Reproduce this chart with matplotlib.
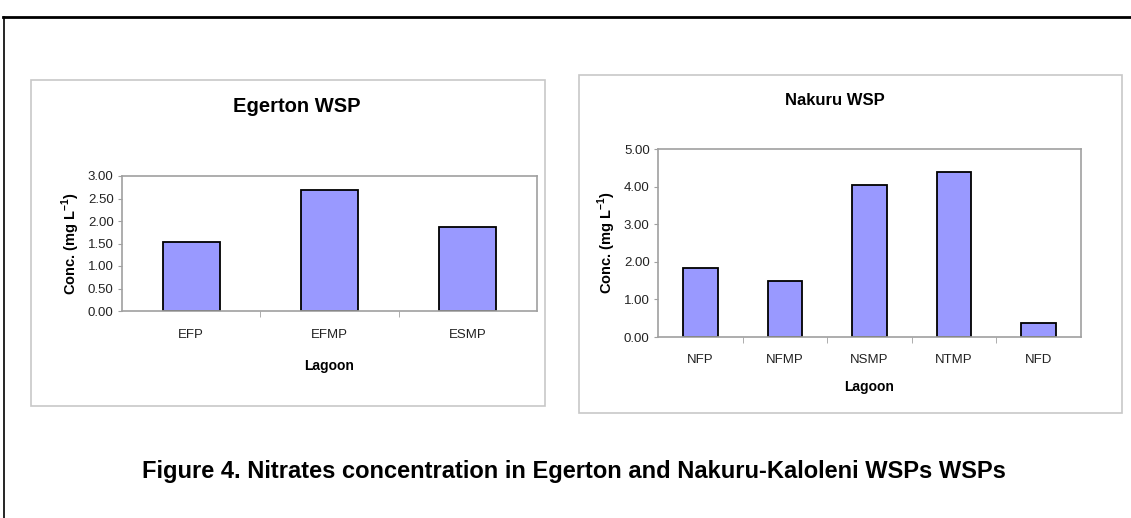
import matplotlib.pyplot as plt
from matplotlib.patches import Rectangle
from matplotlib.lines import Line2D

plt.rcParams['font.family'] = ['Liberation Sans', 'DejaVu Sans']

egerton_lagoons = ["EFP", "EFMP", "ESMP"]
egerton_nitrate = [1.53, 2.69, 1.86]
egerton_ticks = [0.0, 0.5, 1.0, 1.5, 2.0, 2.5, 3.0]

nakuru_lagoons = ["NFP", "NFMP", "NSMP", "NTMP", "NFD"]
nakuru_nitrate = [1.83, 1.48, 4.04, 4.38, 0.37]
nakuru_ticks = [0.0, 1.0, 2.0, 3.0, 4.0, 5.0]

W, H = 1131, 518
fig = plt.figure(figsize=(W / 100, H / 100), dpi=100)


def px_box(x0, y0, x1, y1):
    # pixel box (top-left origin) -> figure fraction [left, bottom, w, h]
    return [x0 / W, 1 - y1 / H, (x1 - x0) / W, (y1 - y0) / H]


# outer frame (top and left lines)
fig.add_artist(Line2D([3 / W, 1], [1 - 16.5 / H] * 2, color="black", lw=2))
fig.add_artist(Line2D([3.5 / W] * 2, [0, 1 - 16.5 / H], color="black", lw=1.2))

# panel boxes
for b in (px_box(31, 80, 545, 406), px_box(579, 75, 1122, 413)):
    fig.add_artist(Rectangle((b[0], b[1]), b[2], b[3], transform=fig.transFigure,
                             fill=False, edgecolor="#c8c8c8", lw=1.2))


def draw_panel(ax, labels, values, ticks, tick_pad, label_pad):
    x = range(len(labels))
    ax.bar(x, values, width=0.41, color="#9999ff", edgecolor="black", linewidth=1.3)
    ax.set_xlim(-0.5, len(labels) - 0.5)
    ax.set_ylim(ticks[0], ticks[-1])
    ax.set_yticks(ticks)
    ax.set_yticklabels([f"{t:.2f}" for t in ticks], fontsize=9.5, color="#222222")
    ax.set_xticks(list(x))
    ax.set_xticklabels(labels, fontsize=9.5, color="#222222")
    ax.set_xticks([i + 0.5 for i in range(len(labels) - 1)], minor=True)
    ax.tick_params(axis="x", which="major", length=0, pad=tick_pad)
    ax.tick_params(axis="x", which="minor", length=4, color="#a0a0a0")
    ax.tick_params(axis="y", length=3, color="#a0a0a0", pad=3)
    for s in ax.spines.values():
        s.set_color("#a0a0a0")
        s.set_linewidth(1.2)
    ax.set_xlabel("Lagoon", fontsize=10, fontweight="bold", labelpad=label_pad)
    ax.set_ylabel("Conc. (mg L$^{\\mathregular{-1}}$)", fontsize=10.5,
                  fontweight="bold", labelpad=4)


ax1 = fig.add_axes(px_box(122, 176, 537, 311))
draw_panel(ax1, egerton_lagoons, egerton_nitrate, egerton_ticks, 13, 13)
fig.text(297 / W, 1 - 107 / H, "Egerton WSP", ha="center", va="center",
         fontsize=14.5, fontweight="bold")

ax2 = fig.add_axes(px_box(658, 149, 1081, 337))
draw_panel(ax2, nakuru_lagoons, nakuru_nitrate, nakuru_ticks, 12, 10)
fig.text(835 / W, 1 - 100 / H, "Nakuru WSP", ha="center", va="center",
         fontsize=12, fontweight="bold")

fig.text(574 / W, 1 - 478 / H,
         "Figure 4. Nitrates concentration in Egerton and Nakuru-Kaloleni WSPs WSPs",
         ha="center", va="baseline", fontsize=17, fontweight="bold")

fig.savefig("out.png", dpi=100)
